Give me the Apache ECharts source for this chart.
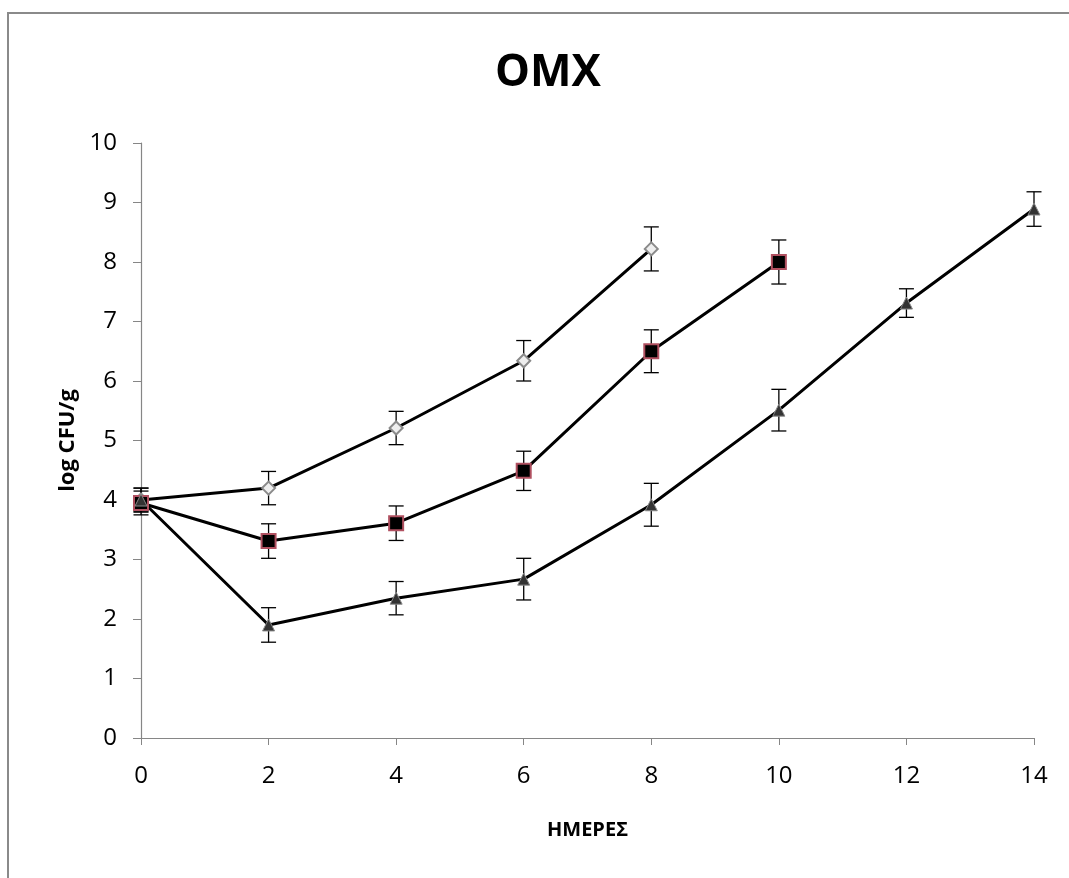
<!DOCTYPE html>
<html><head><meta charset="utf-8">
<script src="https://cdn.jsdelivr.net/npm/echarts@6/dist/echarts.min.js"></script>
<style>html,body{margin:0;padding:0;background:#fff}#c{width:1069px;height:878px}</style>
</head><body><div id="c"></div>
<script>
var days = [0, 2, 4, 6, 8, 10, 12, 14];
var seriesA = [4.0, 4.2, 5.21, 6.34, 8.22];
var errA = [0.2, 0.28, 0.28, 0.34, 0.37];
var seriesB = [3.95, 3.31, 3.61, 4.49, 6.5, 8.0];
var errB = [0.2, 0.29, 0.29, 0.33, 0.36, 0.37];
var seriesC = [4.0, 1.9, 2.35, 2.67, 3.92, 5.51, 7.31, 8.89];
var errC = [0.2, 0.29, 0.28, 0.35, 0.36, 0.35, 0.24, 0.29];
var yTicks = [0,1,2,3,4,5,6,7,8,9,10];

function pts(vals){ return vals.map(function(v,i){ return [days[i], v]; }); }
function errData(vals, errs){ return vals.map(function(v,i){ return [days[i], v - errs[i], v + errs[i]]; }); }

function errSeries(vals, errs){
  return {
    type: 'custom', z: 1, silent: true,
    data: errData(vals, errs),
    renderItem: function(params, api){
      var x = api.value(0);
      var lo = api.coord([x, api.value(1)]);
      var hi = api.coord([x, api.value(2)]);
      var w = 7.5;
      var st = {stroke:'#000', lineWidth:1.3};
      return {type:'group', children:[
        {type:'line', shape:{x1:lo[0],y1:lo[1],x2:hi[0],y2:hi[1]}, style:st},
        {type:'line', shape:{x1:lo[0]-w,y1:lo[1],x2:lo[0]+w,y2:lo[1]}, style:st},
        {type:'line', shape:{x1:hi[0]-w,y1:hi[1],x2:hi[0]+w,y2:hi[1]}, style:st}
      ]};
    }
  };
}

var chart = echarts.init(document.getElementById('c'));
var font = '"Open Sans", "Liberation Sans", sans-serif';
chart.setOption({
  animation: false,
  backgroundColor: '#fff',
  graphic: [{type:'rect', shape:{x:8,y:13,width:1075,height:880}, style:{fill:'none', stroke:'#8a8a8a', lineWidth:2}}],
  title: {text:'OMX', left: 543, top: 46, textAlign:'center',
    textStyle:{fontFamily:font, fontSize:44, fontWeight:'bold', color:'#000'}},
  grid: {left:141, top:143, right:35, bottom:140},
  xAxis: {type:'value', min:0, max:14, interval:2,
    name:'ΗΜΕΡΕΣ', nameLocation:'middle', nameGap:82,
    nameTextStyle:{fontFamily:font, fontSize:20, fontWeight:'bold', color:'#000'},
    axisLine:{lineStyle:{color:'#868686', width:1.2}},
    axisTick:{show:true, length:7, lineStyle:{color:'#868686'}},
    axisLabel:{fontFamily:font, fontSize:24, color:'#000', margin:26},
    splitLine:{show:false}},
  yAxis: {type:'value', min:0, max:10, interval:1,
    name:'log CFU/g', nameLocation:'middle', nameGap:66,
    nameTextStyle:{fontFamily:font, fontSize:22, fontWeight:'bold', color:'#000', verticalAlign:'middle'},
    axisLine:{show:true, lineStyle:{color:'#868686', width:1.2}},
    axisTick:{show:true, length:8, lineStyle:{color:'#868686'}},
    axisLabel:{fontFamily:font, fontSize:24, color:'#000', margin:24,
      formatter:function(v){ return yTicks.indexOf(v) >= 0 ? String(v) : ''; }},
    splitLine:{show:false}},
  series: [
    errSeries(seriesA, errA),
    errSeries(seriesB, errB),
    errSeries(seriesC, errC),
    {type:'line', z:3, data: pts(seriesA), symbol:'diamond', symbolSize:13,
      lineStyle:{color:'#000', width:3}, itemStyle:{color:'#eeeeee', borderColor:'#8a8a8a', borderWidth:2}},
    {type:'line', z:3, data: pts(seriesB), symbol:'rect', symbolSize:14,
      lineStyle:{color:'#000', width:3}, itemStyle:{color:'#000', borderColor:'#b05060', borderWidth:2}},
    {type:'line', z:3, data: pts(seriesC), symbol:'triangle', symbolSize:12,
      lineStyle:{color:'#000', width:3}, itemStyle:{color:'#333', borderColor:'#888', borderWidth:1}}
  ]
});
</script></body></html>
